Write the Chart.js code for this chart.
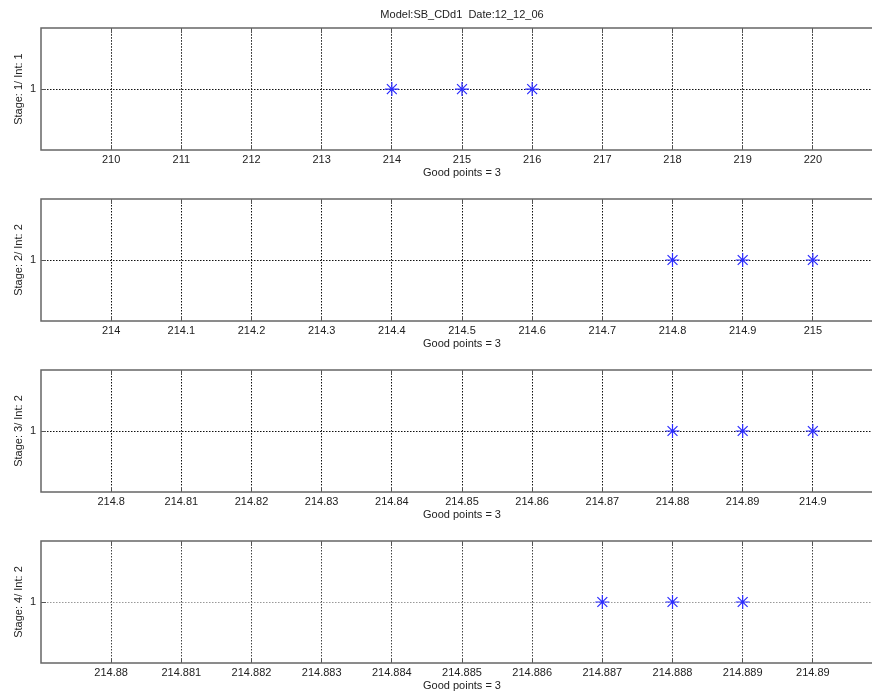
<!DOCTYPE html>
<html>
<head>
<meta charset="utf-8">
<script src="https://cdn.jsdelivr.net/npm/chart.js@4"></script>
<style>
  html, body { margin:0; padding:0; background:#fff; overflow:hidden; width:872px; height:698px; }
  .panel { position:absolute; left:0; width:900px; height:185px; }
</style>
</head>
<body>
<canvas id="p1" class="panel" width="900" height="185" style="top:0px"></canvas>
<canvas id="p2" class="panel" width="900" height="185" style="top:171px"></canvas>
<canvas id="p3" class="panel" width="900" height="185" style="top:342px"></canvas>
<canvas id="p4" class="panel" width="900" height="185" style="top:513px"></canvas>
<script>
"use strict";

/* ===== DATA ===== */

const figTitle = "Model:SB_CDd1  Date:12_12_06";

const yTitles = ["Stage: 1/ Int: 1", "Stage: 2/ Int: 2", "Stage: 3/ Int: 2", "Stage: 4/ Int: 2"];
const xTitles = ["Good points = 3", "Good points = 3", "Good points = 3", "Good points = 3"];

const xTicks1 = [210, 211, 212, 213, 214, 215, 216, 217, 218, 219, 220];
const xLabels1 = ["210", "211", "212", "213", "214", "215", "216", "217", "218", "219", "220"];
const xTicks2 = [214, 214.1, 214.2, 214.3, 214.4, 214.5, 214.6, 214.7, 214.8, 214.9, 215];
const xLabels2 = ["214", "214.1", "214.2", "214.3", "214.4", "214.5", "214.6", "214.7", "214.8", "214.9", "215"];
const xTicks3 = [214.8, 214.81, 214.82, 214.83, 214.84, 214.85, 214.86, 214.87, 214.88, 214.89, 214.9];
const xLabels3 = ["214.8", "214.81", "214.82", "214.83", "214.84", "214.85", "214.86", "214.87", "214.88", "214.89", "214.9"];
const xTicks4 = [214.88, 214.881, 214.882, 214.883, 214.884, 214.885, 214.886, 214.887, 214.888, 214.889, 214.89];
const xLabels4 = ["214.88", "214.881", "214.882", "214.883", "214.884", "214.885", "214.886", "214.887", "214.888", "214.889", "214.89"];

const xRange1 = [209, 221];
const xRange2 = [213.9, 215.1];
const xRange3 = [214.79, 214.91];
const xRange4 = [214.879, 214.891];

const pointsX1 = [214, 215, 216];
const pointsX2 = [214.8, 214.9, 215];
const pointsX3 = [214.88, 214.89, 214.9];
const pointsX4 = [214.887, 214.888, 214.889];
const pointsY = [1, 1, 1];

const yTicks = [1];
const yLabels = ["1"];
const yRange = [0, 2];

/* ===== HELPERS ===== */

const FONT = "'Liberation Sans', Arial, sans-serif";
const TXT = "#222";

// same rounding chart.js uses for 1px grid lines
function alinhar(p){ return Math.round(p - 0.5) + 0.5; }

// box around the axes + inward tick marks (matlab look)
const boxPlugin = {
    id: "boxPlugin",
    afterDraw(chart){
        const a = chart.chartArea;
        const ctx = chart.ctx;
        ctx.save();
        ctx.setLineDash([]);
        ctx.lineWidth = 1;
        ctx.strokeStyle = "#555";
        ctx.beginPath();
        chart.scales.x.ticks.forEach(function(t){
            const px = alinhar(chart.scales.x.getPixelForValue(t.value));
            ctx.moveTo(px, a.top); ctx.lineTo(px, a.top + 5);
            ctx.moveTo(px, a.bottom); ctx.lineTo(px, a.bottom - 5);
        });
        chart.scales.y.ticks.forEach(function(t){
            const py = alinhar(chart.scales.y.getPixelForValue(t.value));
            ctx.moveTo(a.left, py); ctx.lineTo(a.left + 5, py);
            ctx.moveTo(a.right, py); ctx.lineTo(a.right - 5, py);
        });
        ctx.stroke();
        ctx.strokeStyle = "#666";
        ctx.lineWidth = 1.5;
        ctx.strokeRect(Math.round(a.left), Math.round(a.top),
            Math.round(a.right - a.left), Math.round(a.bottom - a.top));
        ctx.restore();
    }
};

function panel(id, idx, xs, ys, ticks, labels, range, gridX, gridY, withTitle){

    const canvas = document.getElementById(id);

    return new Chart(canvas, {
        type: "scatter",
        data: {
            datasets: [{
                data: xs.map(function(x, i){ return { x: x, y: ys[i] }; }),
                pointStyle: "star",
                pointRadius: 7,
                pointHoverRadius: 7,
                borderColor: "#2a2aff",
                backgroundColor: "#2a2aff",
                borderWidth: 1.2,
                showLine: false
            }]
        },
        options: {
            responsive: false,
            animation: false,
            events: [],
            layout: { padding: { top: withTitle ? 0 : 28, left: 0, right: 17, bottom: 0 } },
            plugins: {
                legend: { display: false },
                tooltip: { enabled: false },
                title: {
                    display: withTitle,
                    text: figTitle,
                    fullSize: false,
                    color: TXT,
                    font: { family: FONT, size: 11, weight: "normal" },
                    padding: { top: 8, bottom: 7 }
                }
            },
            scales: {
                x: {
                    type: "linear",
                    min: range[0],
                    max: range[1],
                    afterBuildTicks: function(s){ s.ticks = ticks.map(function(v){ return { value: v }; }); },
                    afterFit: function(s){ s.height = 35; },
                    ticks: {
                        autoSkip: false,
                        maxRotation: 0,
                        padding: 3,
                        color: TXT,
                        font: { family: FONT, size: 11 },
                        callback: function(v, i){ return labels[i]; }
                    },
                    grid: { color: gridX, lineWidth: 1, drawTicks: false },
                    border: { display: false, dash: [1.5, 1.5] },
                    title: {
                        display: true,
                        text: xTitles[idx],
                        color: TXT,
                        font: { family: FONT, size: 11 },
                        padding: { top: 0, bottom: 5 }
                    }
                },
                y: {
                    min: yRange[0],
                    max: yRange[1],
                    afterBuildTicks: function(s){ s.ticks = yTicks.map(function(v){ return { value: v }; }); },
                    afterFit: function(s){ s.width = 41; },
                    ticks: {
                        padding: 5,
                        color: TXT,
                        font: { family: FONT, size: 11 },
                        callback: function(v, i){ return yLabels[i]; }
                    },
                    grid: { color: gridY, lineWidth: 1, drawTicks: false },
                    border: { display: false, dash: [1.5, 1.5] },
                    title: {
                        display: true,
                        text: yTitles[idx],
                        color: TXT,
                        font: { family: FONT, size: 11 },
                        padding: { top: 12, bottom: 0 }
                    }
                }
            }
        },
        plugins: [boxPlugin]
    });

}

/* ===== CHARTS ===== */

panel("p1", 0, pointsX1, pointsY, xTicks1, xLabels1, xRange1, "#111", "#111", true);
panel("p2", 1, pointsX2, pointsY, xTicks2, xLabels2, xRange2, "#111", "#111", false);
panel("p3", 2, pointsX3, pointsY, xTicks3, xLabels3, xRange3, "#111", "#111", false);
panel("p4", 3, pointsX4, pointsY, xTicks4, xLabels4, xRange4, "#444", "#999", false);
</script>
</body>
</html>
